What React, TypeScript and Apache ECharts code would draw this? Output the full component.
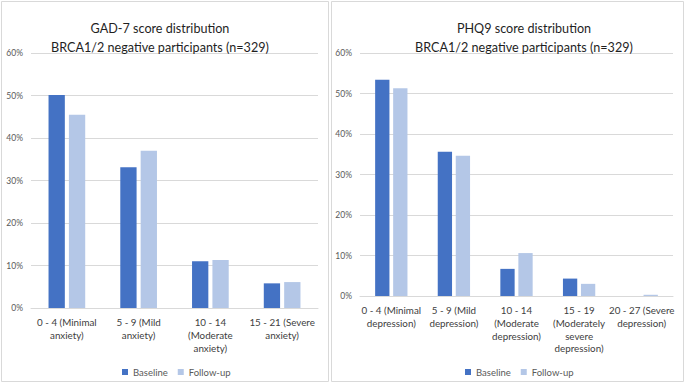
import React, { useEffect, useRef } from "react";
import * as echarts from "echarts";

const gadCategories = [
  "0 - 4 (Minimal\nanxiety)",
  "5 - 9 (Mild\nanxiety)",
  "10 - 14\n(Moderate\nanxiety)",
  "15 - 21 (Severe\nanxiety)",
];
const gadBaseline = [50.1, 33.1, 11.0, 5.8];
const gadFollowUp = [45.5, 37.0, 11.3, 6.1];

const phqCategories = [
  "0 - 4 (Minimal\ndepression)",
  "5 - 9 (Mild\ndepression)",
  "10 - 14\n(Moderate\ndepression)",
  "15 - 19\n(Moderately\nsevere\ndepression)",
  "20 - 27 (Severe\ndepression)",
];
const phqBaseline = [53.4, 35.6, 6.7, 4.3, 0];
const phqFollowUp = [51.3, 34.6, 10.6, 3.0, 0.3];

const yTicks = [0, 10, 20, 30, 40, 50, 60];
const seriesNames = ["Baseline", "Follow-up"];
const titles = [
  "GAD-7 score distribution\nBRCA1/2 negative participants (n=329)",
  "PHQ9 score distribution\nBRCA1/2 negative participants (n=329)",
];

const FONT = "Lato, 'Liberation Sans', sans-serif";
const C1 = "#4472C4";
const C2 = "#B4C7E7";
const GRAY = "#595959";

export default function App() {
  const ref = useRef<HTMLDivElement>(null);
  useEffect(() => {
    if (!ref.current) return;
    const chart = echarts.init(ref.current, null, { renderer: "svg" });
    const yAxisBase = (gi: number) => ({
      type: "value",
      gridIndex: gi,
      min: yTicks[0],
      max: yTicks[yTicks.length - 1],
      interval: 10,
      axisLine: { show: false },
      axisTick: { show: false },
      splitLine: { lineStyle: { color: "#d9d9d9", width: 1 } },
      axisLabel: {
        formatter: "{value}%",
        color: GRAY,
        fontSize: 8.5,
        fontFamily: FONT,
        margin: 8,
      },
    });
    const xAxisBase = (gi: number, cats: string[]) => ({
      type: "category",
      gridIndex: gi,
      data: cats,
      axisLine: { lineStyle: { color: "#d9d9d9" } },
      axisTick: { show: false },
      axisLabel: { show: false },
    });
    // category labels, each line centred under its category via the axis scale
    const labelSeries = (axisIdx: number, cats: string[]) => ({
      type: "custom",
      xAxisIndex: axisIdx,
      yAxisIndex: axisIdx,
      silent: true,
      clip: false,
      data: cats.map((_, i) => [i, 0]),
      encode: { x: 0, y: 1 },
      renderItem: (params: any, api: any) => {
        const p = api.coord([api.value(0), 0]);
        return {
          type: "text",
          x: p[0],
          y: p[1] + 8,
          style: {
            text: cats[params.dataIndex],
            align: "center",
            verticalAlign: "top",
            fontSize: 9.8,
            lineHeight: 12.6,
            fontFamily: FONT,
            fill: "#404040",
          },
        };
      },
    });
    const titleStyle = { fontSize: 12.6, lineHeight: 19, fontWeight: "normal", color: "#1f1f1f", fontFamily: FONT };
    const legendBase = {
      data: seriesNames,
      top: 362,
      itemWidth: 6,
      itemHeight: 6,
      itemGap: 10,
      icon: "rect",
      textStyle: { color: GRAY, fontSize: 9.5, fontFamily: FONT },
    };
    chart.setOption({
      animation: false,
      backgroundColor: "#ffffff",
      textStyle: { fontFamily: FONT },
      title: [
        { text: titles[0], left: 155, top: 14, textAlign: "center", textStyle: titleStyle },
        { text: titles[1], left: 519, top: 14, textAlign: "center", textStyle: titleStyle },
      ],
      graphic: [
        { type: "rect", shape: { x: 1.5, y: 1.5, width: 327, height: 380 }, style: { fill: "none", stroke: "#d9d9d9", lineWidth: 1 }, silent: true },
        { type: "rect", shape: { x: 331.5, y: 1.5, width: 352, height: 380 }, style: { fill: "none", stroke: "#d9d9d9", lineWidth: 1 }, silent: true },
      ],
      legend: [
        { ...legendBase, left: 117 },
        { ...legendBase, left: 460 },
      ],
      grid: [
        { left: 31, top: 53, width: 287, height: 255 },
        { left: 360, top: 53, width: 313, height: 243 },
      ],
      xAxis: [xAxisBase(0, gadCategories), xAxisBase(1, phqCategories)],
      yAxis: [yAxisBase(0), yAxisBase(1)],
      series: [
        { name: seriesNames[0], type: "bar", xAxisIndex: 0, yAxisIndex: 0, data: gadBaseline, barWidth: 16.3, barGap: "25%", itemStyle: { color: C1 } },
        { name: seriesNames[1], type: "bar", xAxisIndex: 0, yAxisIndex: 0, data: gadFollowUp, barWidth: 16.3, barGap: "25%", itemStyle: { color: C2 } },
        { name: seriesNames[0], type: "bar", xAxisIndex: 1, yAxisIndex: 1, data: phqBaseline, barWidth: 14.3, barGap: "26%", itemStyle: { color: C1 } },
        { name: seriesNames[1], type: "bar", xAxisIndex: 1, yAxisIndex: 1, data: phqFollowUp, barWidth: 14.3, barGap: "26%", itemStyle: { color: C2 } },
        labelSeries(0, gadCategories),
        labelSeries(1, phqCategories),
      ],
    });
    return () => chart.dispose();
  }, []);
  return (
    <div
      ref={ref}
      style={{ position: "fixed", left: 0, top: 0, width: 685, height: 384, background: "#fff" }}
    />
  );
}
